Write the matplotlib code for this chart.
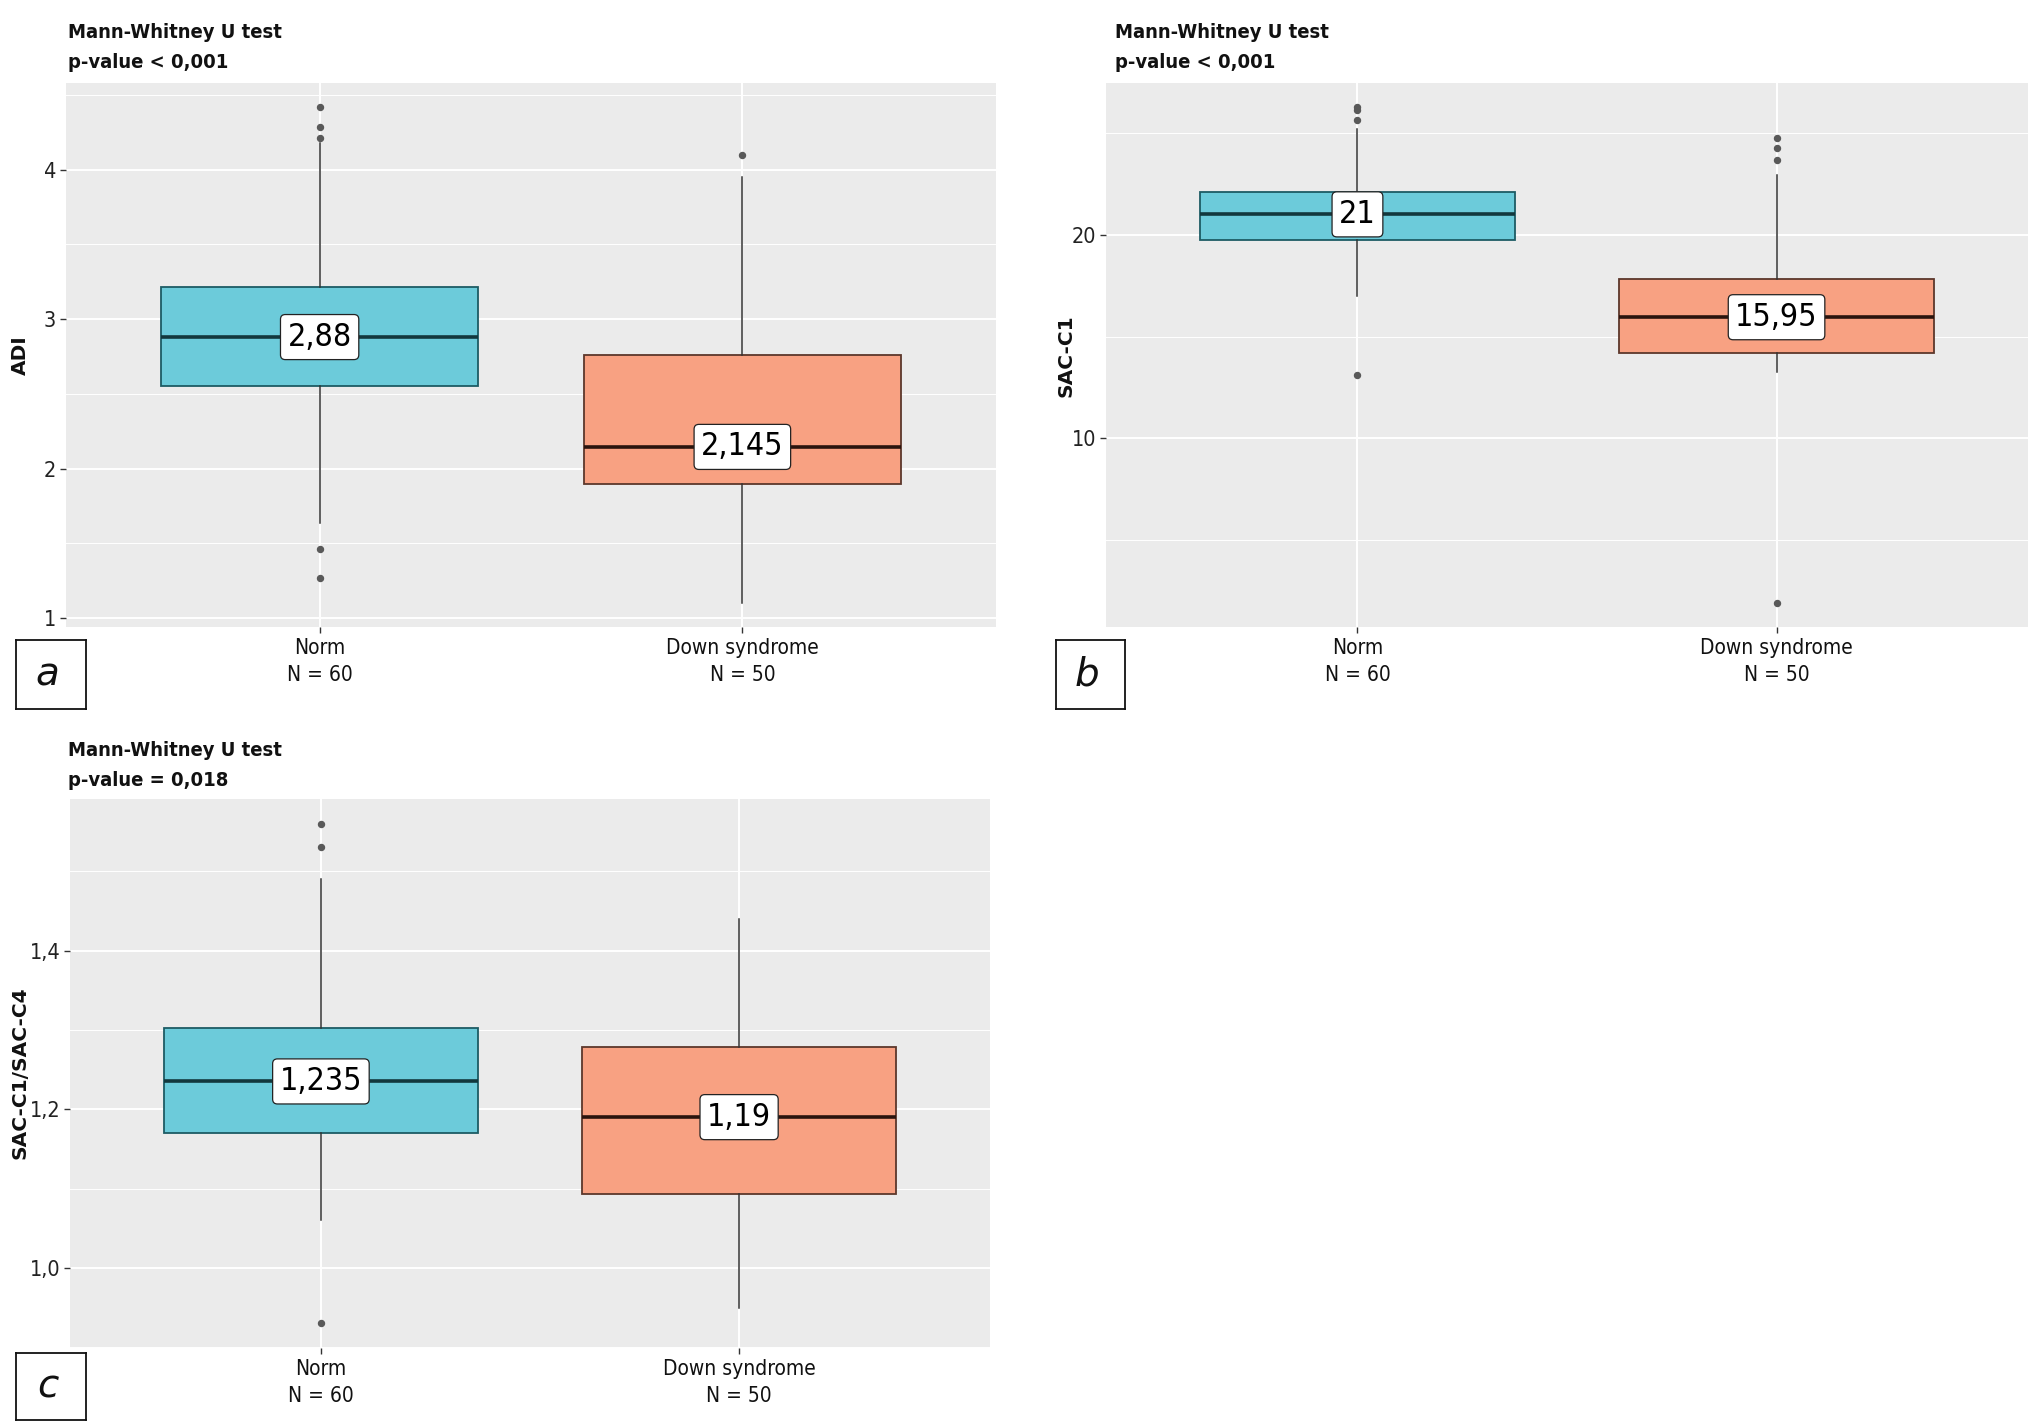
import matplotlib
matplotlib.use("Agg")
import matplotlib.pyplot as plt
from matplotlib import font_manager as fm
from matplotlib.ticker import FixedLocator, FuncFormatter

# ---------------- data ----------------
groups = ["Norm", "Down syndrome"]
group_n = [60, 50]

# panel a: ADI
adi_q1 = [2.555, 1.90]
adi_med = [2.88, 2.145]
adi_q3 = [3.218, 2.758]
adi_whislo = [1.635, 1.10]
adi_whishi = [4.18, 3.95]
adi_fliers_norm = [4.417, 4.288, 4.209, 1.46, 1.27]
adi_fliers_down = [4.098]
adi_med_labels = ["2,88", "2,145"]

# panel b: SAC-C1
sac_q1 = [19.73, 14.21]
sac_med = [21.0, 15.95]
sac_q3 = [22.12, 17.84]
sac_whislo = [16.98, 13.27]
sac_whishi = [25.2, 22.95]
sac_fliers_norm = [26.28, 26.1, 25.65, 13.09]
sac_fliers_down = [24.75, 24.28, 23.67, 1.94]
sac_med_labels = ["21", "15,95"]

# panel c: SAC-C1/SAC-C4
rat_q1 = [1.1706, 1.0934]
rat_med = [1.235, 1.19]
rat_q3 = [1.3026, 1.2778]
rat_whislo = [1.0605, 0.95]
rat_whishi = [1.49, 1.44]
rat_fliers_norm = [1.560, 1.530, 0.931]
rat_fliers_down = []
rat_med_labels = ["1,235", "1,19"]

# ---------------- fonts ----------------
def find_condensed(bold=False):
    best = None
    for f in fm.fontManager.ttflist:
        st = str(f.stretch).lower()
        fn = f.fname.lower()
        is_cond = ("condensed" in st) or ("condensed" in fn) or ("narrow" in fn)
        if not is_cond or f.style != "normal":
            continue
        w = f.weight if isinstance(f.weight, int) else {"bold": 700, "normal": 400, "regular": 400}.get(str(f.weight), 400)
        if bold and w < 600:
            continue
        if not bold and w not in (400,):
            continue
        if "ultra" in fn or "extra" in fn:
            continue
        best = f.fname
        if "dejavu" in fn or "roboto" in fn:
            return best
    return best

cond_reg = find_condensed(False)
cond_bold = find_condensed(True)

def fp(size, bold=False, italic=False):
    path = cond_bold if bold else cond_reg
    if path and not italic:
        return fm.FontProperties(fname=path, size=size)
    return fm.FontProperties(family="DejaVu Sans", size=size,
                             weight="bold" if bold else "normal",
                             style="italic" if italic else "normal",
                             stretch="condensed")

plt.rcParams["font.family"] = ["DejaVu Sans"]

W, H = 2036, 1422
fig = plt.figure(figsize=(W / 100, H / 100), dpi=100)

NORM_FILL, NORM_EDGE = "#6CCBDA", "#1D5C64"
DOWN_FILL, DOWN_EDGE = "#F8A182", "#5C372B"
BG = "#EBEBEB"


def px_axes(l, t, r, b):
    return fig.add_axes([l / W, 1 - b / H, (r - l) / W, (b - t) / H])


def draw_panel(ax, q1, med, q3, wlo, whi, fl_n, fl_d, labels, ylim,
               major, minor, fmt):
    ax.set_facecolor(BG)
    for s in ax.spines.values():
        s.set_visible(False)
    stats = []
    fliers = [fl_n, fl_d]
    for i in range(2):
        stats.append(dict(med=med[i], q1=q1[i], q3=q3[i], whislo=wlo[i],
                          whishi=whi[i], fliers=fliers[i], label=groups[i]))
    fills = [NORM_FILL, DOWN_FILL]
    edges = [NORM_EDGE, DOWN_EDGE]
    for i in range(2):
        ax.bxp([stats[i]], positions=[i + 1], widths=0.75, patch_artist=True,
               showcaps=False,
               boxprops=dict(facecolor=fills[i], edgecolor=edges[i], linewidth=1.3),
               medianprops=dict(color="#12383d" if i == 0 else "#2a140e", linewidth=2.6),
               whiskerprops=dict(color="#333333", linewidth=1.1),
               flierprops=dict(marker="o", markersize=4.3, markerfacecolor="#595959",
                               markeredgecolor="#595959", linestyle="none"),
               zorder=3)
        ax.text(i + 1, med[i], labels[i], ha="center", va="center",
                fontproperties=fp(23), color="black", zorder=5,
                bbox=dict(boxstyle="round,pad=0.22,rounding_size=0.15", fc="white",
                          ec="#222222", lw=0.9))
    ax.set_xlim(0.4, 2.6)
    ax.set_ylim(*ylim)
    ax.yaxis.set_major_locator(FixedLocator(major))
    ax.yaxis.set_minor_locator(FixedLocator(minor))
    ax.yaxis.set_major_formatter(FuncFormatter(fmt))
    ax.set_xticks([1, 2])
    ax.set_xticklabels([f"{g}\nN = {n}" for g, n in zip(groups, group_n)],
                       fontproperties=fp(15), linespacing=1.4)
    for lab in ax.get_yticklabels():
        lab.set_fontproperties(fp(15.5))
        lab.set_color("#222222")
    for lab in ax.get_xticklabels():
        lab.set_color("#111111")
    ax.tick_params(axis="both", which="major", length=4, width=1, color="#333333", pad=3)
    ax.tick_params(axis="x", which="major", pad=4)
    ax.tick_params(axis="y", which="minor", length=0)
    ax.grid(which="major", color="white", linewidth=1.4)
    ax.grid(which="minor", axis="y", color="white", linewidth=0.7)
    ax.set_axisbelow(True)


fmt_int = lambda v, p: f"{v:.0f}"
fmt_1 = lambda v, p: f"{v:.1f}".replace(".", ",")

# panel a
ax_a = px_axes(66, 83, 996, 627)
draw_panel(ax_a, adi_q1, adi_med, adi_q3, adi_whislo, adi_whishi,
           adi_fliers_norm, adi_fliers_down, adi_med_labels,
           (0.94, 4.58), [1, 2, 3, 4], [1.5, 2.5, 3.5, 4.5], fmt_int)

# panel b
ax_b = px_axes(1106, 83, 2028, 627)
draw_panel(ax_b, sac_q1, sac_med, sac_q3, sac_whislo, sac_whishi,
           sac_fliers_norm, sac_fliers_down, sac_med_labels,
           (0.74, 27.45), [10, 20], [5, 15, 25], fmt_int)

# panel c
ax_c = px_axes(70, 799, 990, 1348)
draw_panel(ax_c, rat_q1, rat_med, rat_q3, rat_whislo, rat_whishi,
           rat_fliers_norm, rat_fliers_down, rat_med_labels,
           (0.899, 1.591), [1.0, 1.2, 1.4], [0.9, 1.1, 1.3, 1.5], fmt_1)

# titles
def title(x, y1, line2):
    fig.text(x / W, 1 - y1 / H, "Mann-Whitney U test", fontproperties=fp(14.5, bold=True),
             ha="left", va="center", color="#111111")
    fig.text(x / W, 1 - (y1 + 29) / H, line2, fontproperties=fp(14.5, bold=True),
             ha="left", va="center", color="#111111")

title(68, 33, "p-value < 0,001")
title(1115, 33, "p-value < 0,001")
title(68, 751, "p-value = 0,018")

# y labels
def ylab(x, yc, s):
    fig.text(x / W, 1 - yc / H, s, rotation=90, ha="center", va="center",
             fontsize=14.5, fontweight="bold", family="DejaVu Sans", color="#111111")

ylab(20, 355, "ADI")
ylab(1066, 356, "SAC-C1")
ylab(20, 1073, "SAC-C1/SAC-C4")

# panel letters
def letter_box(l, t, r, b, s):
    ax = fig.add_axes([l / W, 1 - b / H, (r - l) / W, (b - t) / H])
    ax.set_xticks([]); ax.set_yticks([])
    ax.set_facecolor("white")
    for sp in ax.spines.values():
        sp.set_linewidth(1.3); sp.set_color("#111111")
    ax.text(0.45, 0.5, s, transform=ax.transAxes, ha="center", va="center",
            fontsize=28, style="italic", family="DejaVu Sans", color="#111111")

letter_box(16, 640, 86, 709, "a")
letter_box(1056, 640, 1125, 709, "b")
letter_box(16, 1353, 86, 1420, "c")

fig.savefig("out.png", dpi=100, facecolor="white")
